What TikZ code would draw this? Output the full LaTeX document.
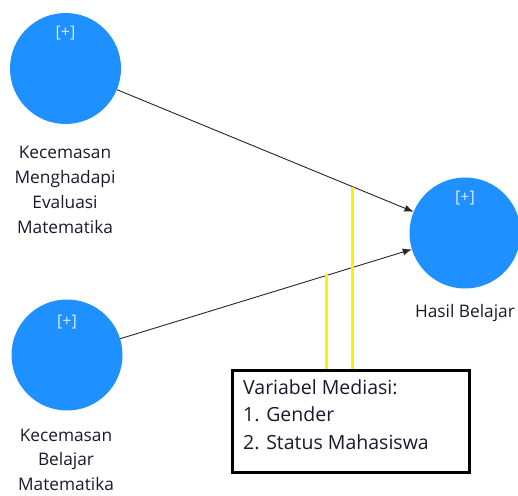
\documentclass[tikz,border=0pt]{standalone}
\usepackage{fontspec}
\setmainfont{Open Sans}
\usepackage{xcolor}
\usepackage{tikz}
\usetikzlibrary{arrows.meta}
\usetikzlibrary{positioning}
\definecolor{latentblue}{RGB}{30,144,255}
\definecolor{plusgrey}{RGB}{220,235,252}
\definecolor{mediayellow}{RGB}{255,240,0}
\definecolor{textdark}{RGB}{25,25,45}
\begin{document}
\begin{tikzpicture}[x=1pt, y=-1pt, latent/.style={circle, fill=latentblue, draw=none, minimum size=111pt, inner sep=0pt}, plus/.style={text=plusgrey, font=\fontsize{16}{16}\selectfont, inner sep=0pt}, caption/.style={align=center, text=textdark, font=\fontsize{17.3}{25}\selectfont, inner sep=0pt}, path/.style={draw=black!85, line width=0.9pt, -{Latex[length=9pt, width=7pt]}}, mediator/.style={draw=mediayellow, line width=3pt}, mediabox/.style={draw=black, line width=3pt, minimum width=237pt, minimum height=102pt, inner sep=0pt}]
	\useasboundingbox (0,0) rectangle (518,495);
	% latent variables
	\node[latent] (kev) at (65.5,68.5) {};
	\node[latent] (kbm) at (67,355) {};
	\node[latent] (hb) at (465,233) {};
	\node[plus] at ([yshift=35pt]kev.center) {[+]};
	\node[plus] at ([yshift=33pt]kbm.center) {[+]};
	\node[plus] at ([yshift=35pt]hb.center) {[+]};
	\node[caption] (kevlabel) at (65,189.5) {Kecemasan\\Menghadapi\\Evaluasi\\Matematika};
	\node[caption, font=\fontsize{17.3}{24.5}\selectfont] (kbmlabel) at (66,459.5) {Kecemasan\\Belajar\\Matematika};
	\node[caption] (hblabel) at (465,313) {Hasil Belajar};
	% paths
	\draw[path] (kev) -- (hb);
	\draw[path] (kbm) -- (hb);
	% mediation
	\node[mediabox] (media) at (350.5,421) {};
	\node[align=left, anchor=north west, text=textdark, font=\fontsize{19.5}{27.5}\selectfont, inner sep=0pt] (mediatext) at (243,379) {Variabel Mediasi:\\1. Gender\\2. Status Mahasiswa};
	\coordinate (ma) at (352,186.5);
	\coordinate (mb) at (326,274);
	\draw[mediator] (ma) -- (ma |- media.north);
	\draw[mediator] (mb) -- (mb |- media.north);
\end{tikzpicture}
\end{document}
